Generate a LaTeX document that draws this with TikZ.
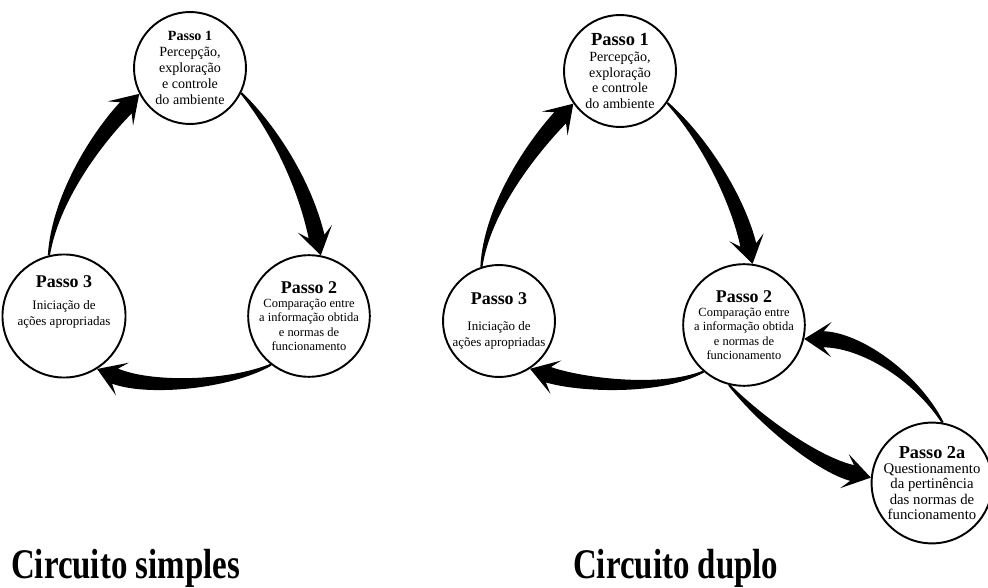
\documentclass[tikz,border=0pt]{standalone}
\usepackage{fontspec}
\setmainfont{Liberation Serif}
\newfontfamily\legendafont[FakeStretch=0.78]{Liberation Serif}
\usetikzlibrary{calc}

\tikzset{
  passo/.style={shape=circle, draw, line width=1.1pt, minimum size=2.24cm, inner sep=0pt, align=center},
  legenda/.style={anchor=base west, font=\legendafont\bfseries\fontsize{24}{26}\selectfont}
}

% seta afunilada: inicio, controle 1, controle 2, ponta
\newcommand{\seta}[4]{%
  \coordinate (ponta) at (#4);
  \coordinate (base) at ($(ponta)!11pt!(#3)$);
  \coordinate (aba) at ($(ponta)!15.5pt!(#3)$);
  \fill ($(#1)!0.6pt!90:(#2)$)
    .. controls ($(#2)!2.4pt!90:(#3)$) and ($(#3)!4.2pt!90:(ponta)$) .. ($(base)!4.6pt!90:(ponta)$)
    -- ($(aba)!10pt!90:(ponta)$) -- (ponta) -- ($(aba)!10pt!-90:(ponta)$)
    -- ($(base)!4.6pt!-90:(ponta)$)
    .. controls ($(#3)!4.2pt!-90:(ponta)$) and ($(#2)!2.4pt!-90:(#3)$) .. ($(#1)!0.6pt!-90:(#2)$)
    -- cycle;
}

\begin{document}
\begin{tikzpicture}[x=0.02cm, y=-0.02cm]
        \useasboundingbox (0,0) rectangle (988,588);

        % circuito simples
        \node[passo, font=\fontsize{8}{9}\selectfont] (a1) at (190,68)
            {{\bfseries Passo 1}\\Percepção,\\exploração\\e controle\\do ambiente};
        \node[passo, font=\fontsize{7.1}{8.2}\selectfont] (a2) at (309,316)
            {{\fontsize{10.2}{11}\selectfont\bfseries Passo 2}\\Comparação entre\\a informação obtida\\e normas de\\funcionamento};
        \node[passo, font=\fontsize{7.4}{9.5}\selectfont] (a3) at (64,316)
            {{\fontsize{10.2}{11}\selectfont\bfseries Passo 3}\\[3pt]Iniciação de\\ações apropriadas\\[8pt]};

        \seta{a3.104}{55,200}{95,140}{a1.207}
        \seta{a1.334}{275,130}{305,185}{a2.79}
        \seta{a2.232}{230,385}{150,390}{a3.302}

        % circuito duplo
        \node[passo, font=\fontsize{8}{9}\selectfont] (b1) at (620,71)
            {{\fontsize{10.5}{11}\selectfont\bfseries Passo 1}\\Percepção,\\exploração\\e controle\\do ambiente};
        \node[passo, font=\fontsize{7.1}{8.2}\selectfont] (b2) at (744,325)
            {{\fontsize{10.2}{11}\selectfont\bfseries Passo 2}\\Comparação entre\\a informação obtida\\e normas de\\funcionamento};
        \node[passo, font=\fontsize{7.4}{9}\selectfont] (b3) at (499,321)
            {{\fontsize{10.2}{11}\selectfont\bfseries Passo 3}\\[6pt]Iniciação de\\ações apropriadas};
        \node[passo, font=\fontsize{8.4}{8.6}\selectfont] (b2a) at (932,483)
            {{\fontsize{10.4}{11}\selectfont\bfseries Passo 2a}\\Questionamento\\da pertinência\\das normas de\\funcionamento};

        \seta{b3.108}{487,210}{530,150}{b1.215}
        \seta{b1.326}{705,140}{738,200}{b2.82}
        \seta{b2.229}{660,392}{580,385}{b3.303}
        \seta{b2.256}{765,425}{820,465}{b2a.175}
        \seta{b2a.80}{915,375}{860,340}{b2.347}

        \node[legenda] (l1) at (5,578) {Circuito simples};
        \node[legenda] (l2) at (567,578) {Circuito duplo};
    \end{tikzpicture}
\end{document}
